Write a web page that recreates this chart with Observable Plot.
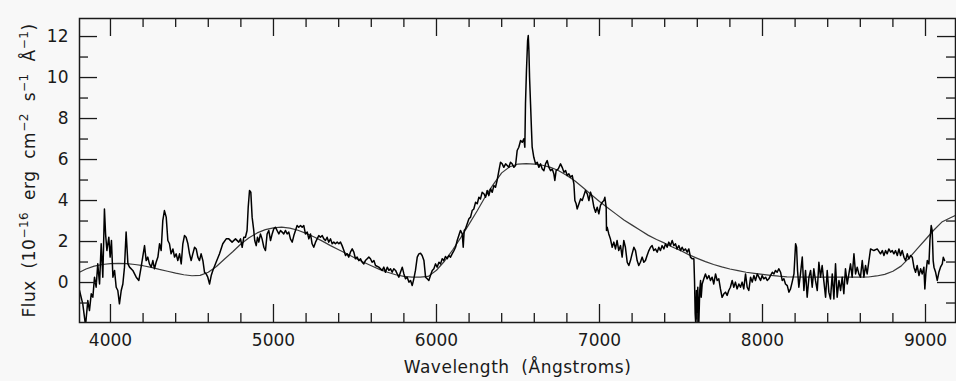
<!DOCTYPE html>
<html>
<head>
<meta charset="utf-8">
<script src="https://cdn.jsdelivr.net/npm/d3@7"></script>
<script src="https://cdn.jsdelivr.net/npm/@observablehq/plot@0.6"></script>
<style>
  html, body { margin: 0; padding: 0; background: #f8f8f8; }
  #chart { width: 956px; height: 381px; }
  .xtitle text, .ytitle text { white-space: pre; letter-spacing: 0.5px; }
</style>
</head>
<body>
<div id="chart"></div>
<script>
// ---- Observed spectrum (wavelength in Å, flux in 1e-16 erg cm^-2 s^-1 Å^-1) ----
const specWave = [
3810,3830,3847,3861,3871,3882,3892,3902,3912,3922,3933,3943,3953,3963,3970,3978,3990,3998,4006,4015,4025,4035,4045,4055,4066,4076,4086,4096,4107,4117,4137,4158,4174,4188,4209,4219,4229,4239,4250,4260,4270,4280,4291,4301,4311,4321,4331,4342,4352,4362,4372,4383,4393,4403,4413,4424,4434,4444,4454,4464,4475,4485,4495,4505,4516,4526,4536,4546,4556,4567,4577,4587,4597,4608,4618,4628,4648,4669,4689,4710,
4726,4746,4767,4787,4798,4808,4818,4828,4838,4845,4853,4861,4869,4879,4885,4894,4902,4910,4920,4930,4941,4951,4961,4971,4982,4992,5002,5012,5022,5033,5043,5053,5063,5074,5084,5094,5104,5115,5125,5135,5145,5155,5166,5176,5186,5196,5207,5217,5227,5237,5247,5258,5268,5278,5288,5299,5309,5319,5329,5339,5350,5360,5370,5380,5391,5401,5411,5421,5432,5442,5452,5462,5472,5483,5493,5503,5513,5524,5534,5544,5554,5564,5575,5585,5595,5605,5616,
5626,5646,5667,5677,5687,5698,5708,5718,5728,5738,5749,5759,5769,5779,5790,5800,5810,5820,5831,5841,5851,5861,5871,5882,5892,5902,5912,5923,5933,5943,5953,5963,5974,5984,5994,6004,6015,6025,6035,6045,6055,6066,6076,6086,6096,6107,6117,6127,6137,6147,6158,6164,6170,6178,6188,6199,6209,6219,6229,6240,6250,6260,6270,6280,6291,6301,6311,6321,6332,6342,6352,6362,6372,6383,6393,6403,6413,6424,6434,6444,6454,6464,6475,
6485,6495,6505,6516,6526,6536,6542,6546,6552,6559,6563,6567,6571,6577,6583,6587,6597,6608,6618,6628,6638,6649,6659,6669,6679,6690,6700,6710,6720,6726,6734,6747,6761,6771,6782,6792,6802,6812,6822,6833,6843,6849,6857,6863,6874,6884,6894,6904,6914,6925,6935,6945,6955,6966,6976,6986,6996,7006,7017,7027,7033,7041,
7043,7047,7057,7067,7078,7088,7098,7108,7118,7129,7139,7149,7159,7170,7180,7190,7200,7211,7221,7231,7241,7251,7262,7272,7282,7292,7303,7313,7323,7333,7343,7354,7364,7374,7384,7395,7405,7415,7425,7435,7446,7456,7466,7476,7487,7497,7507,7517,7527,7538,7548,7558,7568,7579,7583,7587,7591,7595,7599,7603,7609,7615,7620,7624,7630,7640,7650,7660,7671,7681,7691,7701,7712,7722,7732,7742,7752,7763,7773,7783,7793,7803,7814,7824,7834,7844,7855,7865,7875,7885,
7896,7906,7916,7927,7937,7947,7957,7968,7978,7988,7998,8008,8019,8029,8039,8049,8060,8070,8080,8090,8100,8111,8121,8131,8141,8152,8162,8172,8182,8193,8203,8209,8215,8223,8233,8244,8254,8264,8274,8285,8295,8305,8315,8325,8336,8346,8356,8366,8377,8387,8397,8407,8417,8428,8438,8448,8458,8469,8479,8489,8499,8509,8520,8530,8540,8550,8561,8571,8581,8591,8601,8612,8622,8632,8642,8653,
8663,8683,8704,8724,8735,8745,8755,8765,8775,8786,8796,8806,8816,8827,8837,8847,8857,8868,8878,8888,8898,8908,8919,8929,8939,8949,8960,8970,8980,8990,8996,9002,9011,9021,9027,9035,9041,9047,9052,9062,9072,9082,9092,9103,9109,9117
];
const specFlux = [
-0.39,-1.04,-2.1,-0.88,-1.37,-0.55,-0.72,0.26,-0.23,0.91,-0.07,1.89,0.26,3.59,2.37,1.56,2.21,1.24,2.05,0.26,0.59,-0.23,-0.39,-1.04,-0.39,-0.07,0.75,2.46,0.91,0.75,0.59,0.26,0.1,0.75,1.8,1.07,1.24,0.91,0.75,1.07,0.67,0.99,1.24,1.89,1.56,3.02,3.51,3.19,2.05,1.89,1.4,1.64,1.24,1.4,1.07,1.4,0.91,1.89,2.29,2.21,1.89,1.4,1.07,1.4,1.72,1.64,1.24,1.07,1.4,1.07,0.5,0.42,0.26,-0.07,0.34,0.59,0.99,1.4,1.89,2.13,
2.13,1.97,2.13,1.97,2.13,1.72,2.21,2.21,2.54,3.67,4.49,4.41,3.19,2.54,2.05,1.8,2.21,1.97,2.37,2.13,1.72,1.56,2.37,2.54,2.05,2.37,2.62,2.7,2.54,2.37,2.54,2.46,2.37,2.54,2.37,2.46,2.13,1.97,2.29,2.54,2.78,2.7,2.78,2.7,2.78,2.37,2.46,2.13,2.37,1.89,1.72,1.97,2.13,2.29,2.21,2.29,2.13,2.05,2.21,1.97,2.13,1.89,1.97,1.89,1.97,1.89,1.97,1.8,1.56,1.32,1.4,1.24,1.48,1.64,1.48,1.16,1.24,1.07,1.16,0.99,0.91,1.07,1.16,1.24,1.16,0.99,1.07,
0.83,0.75,0.59,0.75,0.5,0.75,0.59,0.67,0.5,0.67,0.59,0.42,0.26,0.5,0.75,0.42,0.18,0.26,0.02,0.1,-0.15,0.18,0.59,1.24,1.4,1.43,1.32,1.07,0.26,0.18,0.1,0.34,0.59,0.67,0.91,0.75,0.99,0.91,1.16,1.07,1.27,1.16,1.32,1.24,1.4,1.56,1.72,2.05,2.29,2.54,2.37,1.72,2.54,2.62,2.86,3.11,3.19,3.51,3.59,3.92,3.84,4.16,4.08,4.4,4.33,4.16,4.49,4.24,4.57,4.4,4.73,4.65,4.98,5.46,5.87,5.79,5.62,5.79,5.71,5.62,5.87,5.79,5.62,
5.71,6.44,6.6,6.93,6.84,7.01,6.6,8.72,10.34,11.8,12.05,11.32,10.0,8.72,7.41,6.6,6.11,5.79,5.87,5.62,5.79,5.54,5.46,5.79,5.95,5.62,5.46,5.54,5.3,4.98,5.46,5.54,5.79,5.62,5.38,5.46,5.22,5.3,5.14,5.22,4.81,4.0,3.84,3.59,3.84,4.08,4.0,4.24,4.49,4.33,4.0,4.41,4.16,3.67,3.43,3.67,3.35,3.76,3.92,4.0,4.16,3.67,
2.54,2.7,2.37,2.13,1.72,1.97,1.64,2.05,1.56,1.8,1.24,2.05,1.72,0.99,0.83,1.07,1.4,1.72,1.56,1.07,0.83,0.99,1.24,0.99,1.07,1.32,1.56,1.72,1.8,1.56,1.64,1.48,1.72,1.56,1.8,1.64,1.89,1.72,1.97,1.8,2.05,1.8,1.89,1.64,1.8,1.56,1.72,1.56,1.64,1.48,1.64,1.24,1.16,1.16,0.1,-1.53,-2.1,-0.39,-1.77,-0.23,-2.1,-0.39,0.1,-0.72,-0.07,0.18,0.42,0.18,0.34,0.1,0.26,-0.07,0.42,0.1,0.18,-0.31,-0.72,-0.55,-0.47,-0.63,-0.39,-0.23,0.1,-0.23,0.02,-0.31,-0.07,-0.23,0.02,-0.31,
0.42,-0.23,-0.39,0.26,0.02,0.34,0.1,0.42,0.26,0.1,0.34,0.18,0.26,0.1,0.18,0.34,0.5,0.42,0.59,0.5,0.67,0.5,0.1,0.18,-0.07,-0.15,-0.47,-0.31,0.02,0.42,1.89,1.72,0.59,-0.23,0.42,1.24,-0.39,0.59,-0.72,0.26,0.59,-0.23,0.67,0.1,-0.39,0.99,0.26,0.83,0.02,-0.72,0.59,-0.47,-0.8,0.42,-0.8,0.91,-0.72,0.1,-0.39,0.26,-0.55,0.67,-0.07,0.42,0.91,0.26,1.4,0.42,0.75,0.42,0.26,1.07,0.26,0.83,0.42,1.07,
1.64,1.56,1.64,1.4,1.56,1.32,1.56,1.4,1.64,1.48,1.56,1.4,1.56,1.32,1.64,1.32,1.56,1.23,1.07,1.4,1.15,1.32,1.23,0.75,0.5,0.83,0.34,0.67,0.42,0.75,-0.31,0.42,1.07,0.91,2.05,2.78,2.54,1.07,0.75,0.5,0.1,0.5,0.75,0.91,1.23,1.07
];

// ---- Smooth model continuum ----
const modelWave = [3810,3850,3900,3950,4000,4050,4100,4150,4200,4250,4300,4350,4400,4450,4500,4550,4600,4650,4700,4750,4800,4850,4900,4950,5000,5050,5100,5150,5200,5250,5300,5350,5400,5450,5500,5550,5600,5650,5700,5750,5800,5850,5900,5950,6000,6050,6100,6150,6200,6250,6300,6350,6400,6450,6500,6550,6600,6650,6700,6750,6800,6850,6900,6950,7000,7050,7100,7150,7200,7250,7300,7350,7400,7450,7500,7550,7600,7650,7700,7750,7800,7850,7900,7950,8000,8050,8100,8150,8200,8300,8400,8500,8600,8650,8700,8750,8800,8850,8900,8950,9000,9050,9100,9150,9184];
const modelFlux = [0.5,0.66,0.8,0.88,0.92,0.93,0.92,0.88,0.82,0.74,0.64,0.55,0.46,0.38,0.33,0.35,0.5,0.78,1.15,1.5,1.88,2.18,2.42,2.58,2.67,2.7,2.65,2.55,2.4,2.22,2.02,1.8,1.6,1.4,1.2,1.0,0.82,0.64,0.5,0.38,0.3,0.26,0.26,0.3,0.6,1.05,1.6,2.2,2.85,3.5,4.2,4.8,5.35,5.65,5.78,5.8,5.78,5.72,5.62,5.45,5.22,4.95,4.62,4.28,3.95,3.65,3.35,3.05,2.8,2.55,2.3,2.1,1.92,1.72,1.55,1.35,1.18,1.02,0.88,0.76,0.66,0.58,0.5,0.45,0.4,0.35,0.31,0.28,0.27,0.26,0.26,0.26,0.26,0.27,0.32,0.4,0.55,0.8,1.2,1.65,2.1,2.55,2.95,3.15,3.27];

// ---- Axes ----
const xMajorTicks = [4000,5000,6000,7000,8000,9000];
const xMinorTicks = [4200,4400,4600,4800,5200,5400,5600,5800,6200,6400,6600,6800,7200,7400,7600,7800,8200,8400,8600,8800];
const yMajorTicks = [0,2,4,6,8,10,12];
const yMinorTicks = [-1,1,3,5,7,9,11];
const xDomain = [3810, 9184];
const yDomain = [-1.95, 12.88];
const xTitle = "Wavelength  (Ångstroms)";
const yTitle = "Flux  (10−16  erg  cm−2  s−1  Å−1)";
const yTitleParts = [["Flux  (10",0],["−16",1],["  erg  cm",0],["−2",1],["  s",0],["−1",1],["  Å",0],["−1",1],[")",0]];

const spectrum = specWave.map((w, i) => ({w, f: specFlux[i]}));
const model = modelWave.map((w, i) => ({w, f: modelFlux[i]}));

const W = 956, H = 381, mL = 79, mR = 1, mT = 18, mB = 59;
const innerH = H - mT - mB, innerW = W - mL - mR;
const ink = "#1a1a1a";
const majorLen = 18, minorLen = 9;
const font = "'DejaVu Sans', 'Liberation Sans', sans-serif";

const chart = Plot.plot({
  width: W, height: H,
  marginLeft: mL, marginRight: mR, marginTop: mT, marginBottom: mB,
  style: {background: "#f8f8f8", fontFamily: font, fontSize: "17px", color: ink},
  x: {domain: xDomain},
  y: {domain: yDomain},
  marks: [
    Plot.line(model, {x: "w", y: "f", stroke: "#3a3a3a", strokeWidth: 1.2, clip: true}),
    Plot.line(spectrum, {x: "w", y: "f", stroke: "#000", strokeWidth: 1.5, clip: true}),
    // inward ticks: bottom & top
    Plot.ruleX(xMajorTicks, {insetTop: innerH - majorLen, stroke: ink, strokeWidth: 1.3}),
    Plot.ruleX(xMajorTicks, {insetBottom: innerH - majorLen, stroke: ink, strokeWidth: 1.3}),
    Plot.ruleX(xMinorTicks, {insetTop: innerH - minorLen, stroke: ink, strokeWidth: 1.3}),
    Plot.ruleX(xMinorTicks, {insetBottom: innerH - minorLen, stroke: ink, strokeWidth: 1.3}),
    // inward ticks: left & right
    Plot.ruleY(yMajorTicks, {insetRight: innerW - majorLen, stroke: ink, strokeWidth: 1.3}),
    Plot.ruleY(yMajorTicks, {insetLeft: innerW - majorLen, stroke: ink, strokeWidth: 1.3}),
    Plot.ruleY(yMinorTicks, {insetRight: innerW - minorLen, stroke: ink, strokeWidth: 1.3}),
    Plot.ruleY(yMinorTicks, {insetLeft: innerW - minorLen, stroke: ink, strokeWidth: 1.3}),
    Plot.frame({stroke: ink, strokeWidth: 1.5}),
    Plot.axisX({ticks: xMajorTicks, tickSize: 0, tickPadding: 11, tickFormat: d => String(d), label: null, fontSize: 17, fill: ink}),
    Plot.axisY({ticks: yMajorTicks, tickSize: 0, tickPadding: 11, tickFormat: d => String(d), label: null, fontSize: 17, fill: ink}),
    Plot.text([xTitle], {text: d => d, frameAnchor: "bottom", lineAnchor: "middle", dy: 45, fontSize: 17, fill: ink, className: "xtitle"}),
    Plot.text([yTitle], {text: d => d, frameAnchor: "left", textAnchor: "middle", lineAnchor: "middle", dx: -50, rotate: -90, fontSize: 17, fill: ink, className: "ytitle"})
  ]
});
document.getElementById("chart").appendChild(chart);

// Render the exponents of the y title as raised, smaller text.
const yt = chart.querySelector(".ytitle text");
if (yt) {
  yt.textContent = "";
  let prevSup = 0;
  for (const [t, sup] of yTitleParts) {
    const ts = document.createElementNS("http://www.w3.org/2000/svg", "tspan");
    ts.textContent = t;
    const shift = (sup ? -7 : 0) - (prevSup ? -7 : 0);
    if (shift) ts.setAttribute("dy", shift);
    if (sup) ts.setAttribute("font-size", "12");
    yt.appendChild(ts);
    prevSup = sup;
  }
}
</script>
</body>
</html>
